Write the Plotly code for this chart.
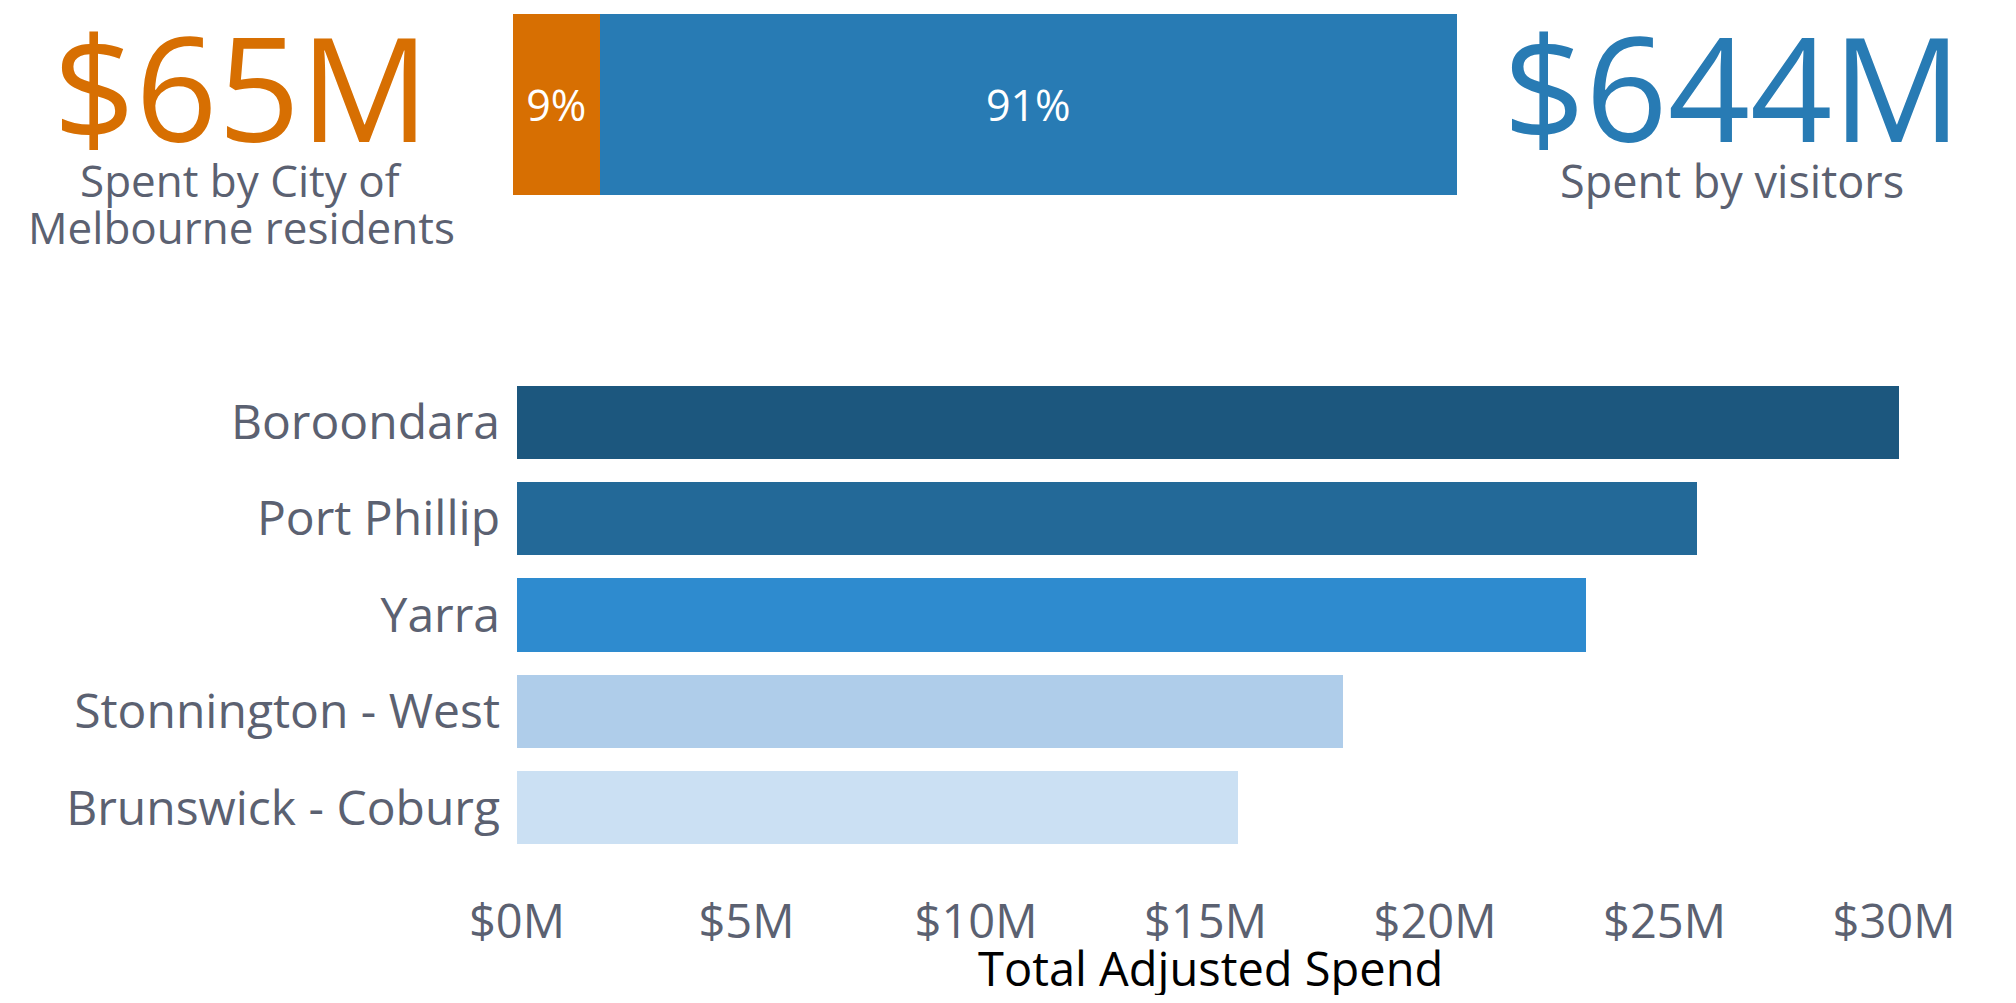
import plotly.graph_objects as go

# bottom chart: spend by home area of visitors ($M)
areas = ["Boroondara", "Port Phillip", "Yarra", "Stonnington - West", "Brunswick - Coburg"]
area_spend = [30.1, 25.7, 23.3, 18.0, 15.7]
area_colors = ["#1c577e", "#236998", "#2e8bcf", "#afcdea", "#cbe0f3"]

# top split: residents vs visitors ($M)
split_names = ["residents", "visitors"]
split_spend = [65, 644]
split_captions = ["Spent by City of<br>Melbourne residents", "Spent by visitors"]
split_colors = ["#d76f02", "#287bb4"]

x_ticks = [0, 5, 10, 15, 20, 25, 30]
x_title = "Total Adjusted Spend"

# page body has an 8px margin, so the figure is drawn 8px in from the corner
OFF = 8
W, H = 2000, 987
FONT = "Open Sans"
GREY = "#5b6171"


def px_x(x):
    return (x - OFF) / W


def px_y(y):
    return 1 - (y - OFF) / H


total = sum(split_spend)
pcts = [round(v / total * 100) for v in split_spend]

fig = go.Figure()

fig.add_trace(go.Bar(
    x=area_spend, y=areas, orientation="h",
    marker=dict(color=area_colors, line=dict(width=0)),
    hoverinfo="x+y", showlegend=False,
))

for name, val, pct, col in zip(split_names, split_spend, pcts, split_colors):
    fig.add_trace(go.Bar(
        x=[val], y=["split"], orientation="h", xaxis="x2", yaxis="y2",
        name=name, width=1,
        marker=dict(color=col, line=dict(width=0)),
        text=[f"{pct}%"], textposition="inside", insidetextanchor="middle",
        textfont=dict(family=FONT, size=43, color="white"),
        showlegend=False,
    ))

# big headline numbers + captions
centers = [241, 1732]
cap_sizes = [44, 45]
for val, cap, col, cx, cs in zip(split_spend, split_captions, split_colors, centers, cap_sizes):
    fig.add_annotation(
        x=px_x(cx), y=px_y(86), xref="paper", yref="paper",
        text=f"${val}M", showarrow=False, xanchor="center", yanchor="middle",
        font=dict(family=FONT, size=144, color=col),
    )
    for i, line in enumerate(cap.split("<br>")):
        fig.add_annotation(
            x=px_x(cx), y=px_y(180 + i * 47), xref="paper", yref="paper",
            text=line, showarrow=False, xanchor="center", yanchor="middle",
            font=dict(family=FONT, size=cs, color=GREY),
        )

# x axis title (placed by hand, standoff is ignored without automargin)
fig.add_annotation(
    x=px_x(1210), y=px_y(968), xref="paper", yref="paper",
    text=x_title, showarrow=False, xanchor="center", yanchor="middle",
    font=dict(family=FONT, size=47, color="black"),
)

x_max = 30.5
px_per = 1377 / 30

fig.update_layout(
    width=W, height=H,
    margin=dict(l=0, r=0, t=0, b=0),
    paper_bgcolor="white", plot_bgcolor="white",
    barmode="stack", bargap=0.24,
    font=dict(family=FONT, color=GREY),
    xaxis=dict(
        domain=[px_x(517), px_x(517 + x_max * px_per)],
        range=[0, x_max], tickvals=x_ticks,
        ticktext=[f"${t}M" for t in x_ticks],
        showgrid=False, zeroline=False, showline=False, automargin=False,
        ticks="", ticklabelstandoff=34,
        tickfont=dict(family=FONT, size=47, color=GREY),
    ),
    yaxis=dict(
        domain=[px_y(856), px_y(374)],
        autorange="reversed", automargin=False,
        showgrid=False, zeroline=False, showline=False,
        ticks="", ticklabelstandoff=16,
        tickfont=dict(family=FONT, size=48, color=GREY),
    ),
    xaxis2=dict(
        domain=[px_x(513), px_x(1457)], range=[0, total],
        anchor="y2", visible=False,
    ),
    yaxis2=dict(
        domain=[px_y(195), px_y(14)], range=[-0.5, 0.5],
        anchor="x2", visible=False,
    ),
)

fig.write_html("out.html")
